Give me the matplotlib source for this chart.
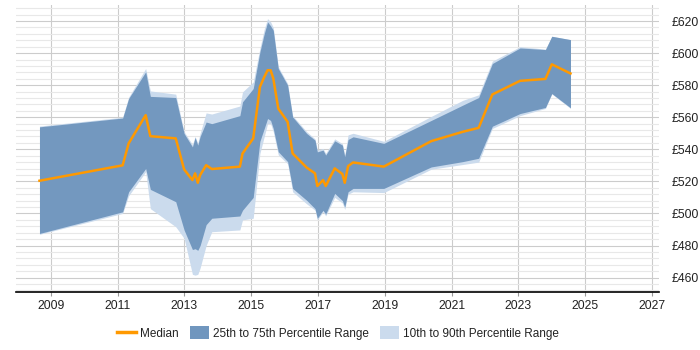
import matplotlib
matplotlib.use("Agg")
import matplotlib.pyplot as plt
from matplotlib.lines import Line2D
from matplotlib.patches import Patch
from matplotlib.ticker import MultipleLocator, FixedLocator

plt.rcParams['font.family'] = ['Liberation Sans', 'DejaVu Sans']

years = [2008.66, 2011.15, 2011.33, 2011.84, 2011.98, 2012.74, 2012.99, 2013.24, 2013.32,
         2013.40, 2013.47, 2013.65, 2013.82, 2014.66, 2014.74, 2015.06, 2015.26, 2015.39,
         2015.49, 2015.58, 2015.66, 2015.81, 2016.09, 2016.24, 2016.66, 2016.91, 2016.98,
         2017.15, 2017.23, 2017.50, 2017.73, 2017.80, 2017.90, 2018.05, 2018.97, 2020.39,
         2021.33, 2021.81, 2022.22, 2023.05, 2023.81, 2024.00, 2024.56]
p10 = [487, 500, 511, 526, 503, 491.7, 484.5, 462, 461.5,
       462, 466, 480, 488.6, 489.7, 496, 497, 537.4, 548,
       556, 556, 551, 536.5, 531, 513.5, 506, 502, 496,
       501, 498.5, 510, 506.5, 502.5, 512, 513.5, 513, 527.6,
       530.5, 532, 553, 561, 565.5, 574.5, 565.5]
p25 = [487.5, 501, 513.5, 528, 515, 507.3, 489.7, 477.5, 478,
       477, 480, 493, 497, 498.4, 502, 510, 545, 553,
       559.2, 558, 553, 538.5, 532.3, 515.6, 508.2, 503, 497,
       502, 499.6, 512.5, 508, 504, 513.5, 515.6, 515.6, 529,
       532.3, 534.4, 554.4, 562.3, 566.1, 574.8, 565.9]
median = [520.4, 530, 543.7, 561.3, 548.2, 546.8, 527.5, 520.8, 525,
          519.1, 523.9, 530.1, 527.7, 529.2, 537.4, 546.8, 578.9, 585.1,
          589.3, 589.3, 584.3, 565.4, 557.1, 537.4, 528.6, 525, 517.1,
          520.8, 517.1, 528.1, 524.6, 519.1, 529.5, 531.8, 529.2, 545.1,
          550.9, 553.4, 574.2, 582.7, 583.9, 593, 587.3]
p75 = [554, 559.5, 571.7, 588.3, 573, 572.3, 549.9, 541.5, 547.4,
       542.6, 548, 557, 556, 561, 569.6, 577.9, 600.7, 612.1,
       619.4, 617, 614.2, 590.4, 580, 560.2, 549.9, 545.7, 538.4,
       539.5, 536.4, 545.3, 542.6, 535.4, 546.1, 547.8, 543.7, 558,
       567.5, 572.3, 593.5, 603.2, 602.2, 610.5, 608.4]
p90 = [554.5, 560, 572.5, 590.4, 576.4, 574.4, 551, 543, 548,
       544, 550, 562.7, 562, 567, 575.8, 582, 603, 615,
       621.5, 619.5, 616, 591.5, 581, 561, 551, 546.5, 539.5,
       540.5, 537.5, 546.5, 543.5, 536.5, 549, 550, 545, 560.5,
       570.5, 574, 595, 604, 602.5, 610.5, 608.4]

x_ticks = [2009, 2011, 2013, 2015, 2017, 2019, 2021, 2023, 2025, 2027]
y_ticks = [460, 480, 500, 520, 540, 560, 580, 600, 620]

dark = '#7096be'
light = '#cbdbed'
orange = '#ff9900'

fig = plt.figure(figsize=(7, 3.5), dpi=100)
ax = fig.add_axes([16/700, 1 - 292/350, (659 - 16)/700, (292 - 5)/350])

ax.fill_between(years, p10, p90, color=light, lw=0, zorder=2)
ax.fill_between(years, p25, p75, color=dark, lw=0, zorder=3, alpha=0.97)
ax.plot(years, median, color=orange, lw=1.8, zorder=4)

ax.set_xlim(2007.957, 2027.21)
ax.set_ylim(451, 630)

ax.xaxis.set_major_locator(FixedLocator(x_ticks))
ax.set_xticklabels([str(t) for t in x_ticks])
ax.yaxis.set_major_locator(FixedLocator(y_ticks))
ax.set_yticklabels([f'£{t}' for t in y_ticks])
ax.yaxis.set_minor_locator(MultipleLocator(4))
ax.yaxis.tick_right()

ax.set_axisbelow(True)
ax.grid(which='major', axis='both', color='#cccccc', lw=0.8)
ax.grid(which='minor', axis='y', color='#e8e8e8', lw=0.8)

for s in ['left', 'top', 'right']:
    ax.spines[s].set_visible(False)
ax.spines['bottom'].set_color('black')
ax.spines['bottom'].set_linewidth(1.2)

ax.tick_params(axis='x', length=3, width=0.8, color='#999999', pad=3, labelsize=8.7, labelcolor='#222222')
ax.tick_params(axis='y', which='both', length=0, pad=9, labelsize=8.7, labelcolor='#222222')

handles = [Line2D([0], [0], color=orange, lw=2.5),
           Patch(facecolor=dark, edgecolor='none'),
           Patch(facecolor=light, edgecolor='none')]
labels = ['Median', '25th to 75th Percentile Range', '10th to 90th Percentile Range']
fig.legend(handles, labels, loc='center', bbox_to_anchor=(0.483, 1 - 333/350), ncol=3,
           frameon=False, fontsize=8.5, handlelength=1.6, handleheight=1.2,
           columnspacing=0.9, handletextpad=0.4, labelcolor='#222222')

fig.savefig('out.png', dpi=100)
